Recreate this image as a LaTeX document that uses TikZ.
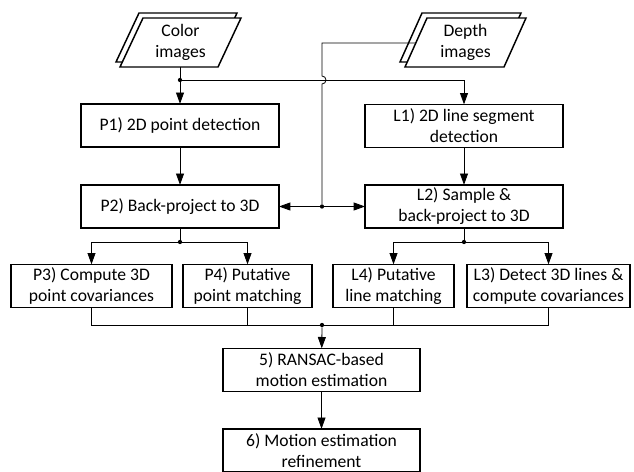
\documentclass[tikz,border=0pt]{standalone}
\usepackage{fontspec}
\setmainfont{Carlito}
\usetikzlibrary{arrows.meta}

\tikzset{
    procbox/.style={draw, line width=1.1pt, fill=white, align=center, inner sep=0pt, outer sep=0pt,
        minimum height=32.5pt, font=\fontsize{13.2pt}{15.8pt}\selectfont},
    imgshape/.style={draw, line width=1.1pt, fill=white, line join=miter},
    imgtext/.style={align=center, inner sep=0pt, font=\fontsize{13.2pt}{15.8pt}\selectfont},
    conn/.style={line width=0.6pt},
    arr/.style={conn, -{Triangle[length=8.5pt,width=6pt]}},
    jdot/.style={circle, fill, inner sep=0pt, minimum size=3.2pt}
}

\begin{document}
\begin{tikzpicture}[x=0.75pt, y=-0.75pt]
    \useasboundingbox (0,0) rectangle (634,471);
    % input images
    \draw[imgshape] (116,62)--(214,62)--(237,13)--(139,13)--cycle;
    \draw[imgshape] (120,67)--(218,67)--(241,18)--(143,18)--cycle;
    \draw[imgshape] (400,62)--(499,62)--(521,13)--(422,13)--cycle;
    \draw[imgshape] (405,67)--(504,67)--(526,18)--(427,18)--cycle;
    \node[imgtext] (color) at (180.5,42.5) {Color\\images};
    \node[imgtext] (depth) at (465.5,42.5) {Depth\\images};
    \coordinate (colorout) at (180,67);
    \coordinate (depthin) at (416,43);
    % processing steps
    \node[procbox, minimum width=148.5pt] (p1) at (180,125.5) {P1) 2D point detection};
    \node[procbox, minimum width=148.5pt] (p2) at (180,206.5) {P2) Back-project to 3D};
    \node[procbox, minimum width=148.5pt] (l1) at (464,126) {L1) 2D line segment\\detection};
    \node[procbox, minimum width=148.5pt] (l2) at (464,206.5) {L2) Sample \&\\back-project to 3D};
    \node[procbox, minimum width=121pt] (p3) at (91.5,286) {P3) Compute 3D\\point covariances};
    \node[procbox, minimum width=96.5pt] (p4) at (247.5,286) {P4) Putative\\point matching};
    \node[procbox, minimum width=91pt] (l4) at (393.5,286) {L4) Putative\\line matching};
    \node[procbox, minimum width=122pt] (l3) at (548.5,286) {L3) Detect 3D lines \&\\compute covariances};
    \node[procbox, minimum width=148pt] (m5) at (321.5,370) {5) RANSAC-based\\motion estimation};
    \node[procbox, minimum width=148pt] (m6) at (321.5,450.5) {6) Motion estimation\\refinement};
    % junctions
    \node[jdot] (cj) at (180,80) {};
    \node[jdot] (pj) at (322,206.5) {};
    \node[jdot] (pd) at (180,242) {};
    \node[jdot] (ld) at (464,242) {};
    \node[jdot] (bd) at (322,325) {};
    \coordinate (hop) at (322,76);
    % connectors
    \draw[conn] (colorout) -- (cj);
    \draw[arr] (cj) -- (p1);
    \draw[arr] (cj) -| (l1);
    \draw[conn] (depthin) -| (hop) arc[start angle=90, end angle=-90, radius=3pt] -- (pj);
    \draw[arr] (pj) -- (p2.east |- pj);
    \draw[arr] (pj) -- (l2.west |- pj);
    \draw[arr] (p1) -- (p2);
    \draw[arr] (l1) -- (l2);
    \draw[conn] (p2) -- (pd);
    \draw[arr] (pd) -| (p3);
    \draw[arr] (pd) -| (p4);
    \draw[conn] (l2) -- (ld);
    \draw[arr] (ld) -| (l4);
    \draw[arr] (ld) -| (l3);
    \draw[conn] (p3.south) |- (l3.south |- bd) -- (l3.south);
    \draw[conn] (p4.south) -- (p4.south |- bd);
    \draw[conn] (l4.south) -- (l4.south |- bd);
    \draw[arr] (bd) -- (m5);
    \draw[arr] (m5) -- (m6);
\end{tikzpicture}
\end{document}
